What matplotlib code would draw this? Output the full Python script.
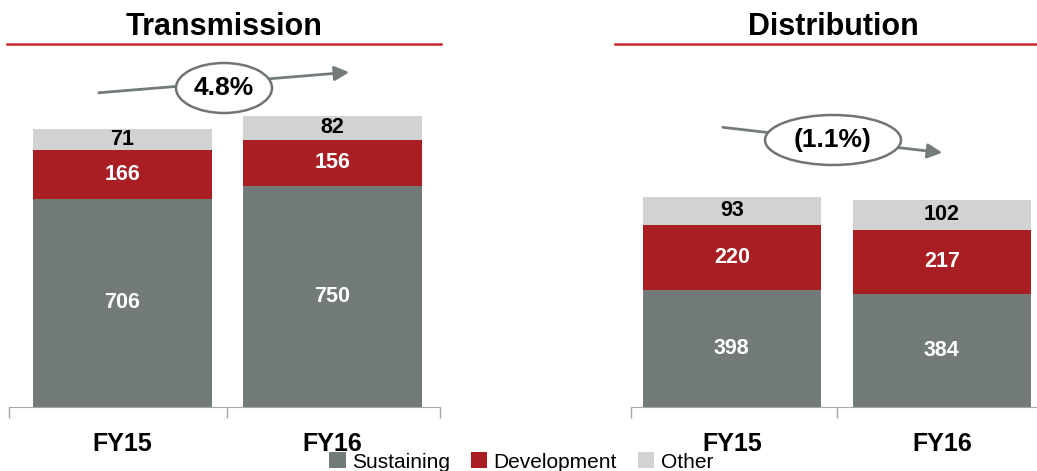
import matplotlib.pyplot as plt
import numpy as np
from matplotlib.lines import Line2D
from matplotlib.patches import Ellipse, FancyArrowPatch

plt.rcParams['font.family'] = ['Liberation Sans', 'DejaVu Sans']

years = ["FY15", "FY16"]
series = ["Sustaining", "Development", "Other"]
transmission = {"Sustaining": [706, 750], "Development": [166, 156], "Other": [71, 82]}
distribution = {"Sustaining": [398, 384], "Development": [220, 217], "Other": [93, 102]}
growth = ["4.8%", "(1.1%)"]

colors = {"Sustaining": "#727b78", "Development": "#a81e23", "Other": "#d0d3d2"}
text_colors = {"Sustaining": "white", "Development": "white", "Other": "black"}

W, H = 1037, 471
fig = plt.figure(figsize=(W / 100, H / 100), dpi=100)


def fx(px):
    return px / W


def fy(py):
    return 1 - py / H


unit = 210.0  # pixels per category
base_py = 407
ymax = 1000
ax_h = ymax * 0.295


def panel(left_px, xlim, data):
    ax = fig.add_axes([fx(left_px), fy(base_py), (xlim[1] - xlim[0]) * unit / W, ax_h / H])
    x = np.arange(len(years))
    bottom = np.zeros(len(years))
    for s in series:
        vals = np.array(data[s])
        ax.bar(x, vals, 0.85, bottom=bottom, color=colors[s], label=s)
        for xi, v, b in zip(x, vals, bottom):
            ax.text(xi, b + v / 2, str(v), ha="center", va="center",
                    fontsize=15.5, fontweight="bold", color=text_colors[s])
        bottom += vals
    ax.set_xlim(*xlim)
    ax.set_ylim(0, ymax)
    for sp in ["top", "right", "left"]:
        ax.spines[sp].set_visible(False)
    ax.spines["bottom"].set_color("#a6a6a6")
    ax.set_yticks([])
    ax.set_xticks(x)
    ax.set_xticklabels(years, fontsize=18, fontweight="bold")
    ax.tick_params(axis="x", which="major", length=0, pad=18)
    ax.set_xticks([xlim[0], 0.5, xlim[1]], minor=True)
    ax.tick_params(axis="x", which="minor", length=8, color="#a6a6a6", width=1)
    return ax


ax1 = panel(9, (-0.54, 1.51), transmission)
ax2 = panel(631, (-0.48, 1.52), distribution)

# panel titles with red rules
for title, cx, x0, x1 in [("Transmission", 224, 7, 441), ("Distribution", 833, 615, 1037)]:
    fig.text(fx(cx), fy(27), title, ha="center", va="center", fontsize=22, fontweight="bold")
    fig.add_artist(Line2D([fx(x0), fx(x1)], [fy(44), fy(44)], color="#c0282d", lw=1.8))

# growth arrows with ellipse labels
arrows = [((96, 93), (352, 72), (224, 88), 96, 50),
          ((720, 127), (945, 153), (833, 140), 136, 50)]
for label, (a, b, c, ew, eh) in zip(growth, arrows):
    fig.add_artist(FancyArrowPatch((fx(a[0]), fy(a[1])), (fx(b[0]), fy(b[1])),
                                   transform=fig.transFigure, arrowstyle="-|>",
                                   mutation_scale=22, color="#747c7a", lw=2))
    fig.add_artist(Ellipse((fx(c[0]), fy(c[1])), ew / W, eh / H, transform=fig.transFigure,
                           facecolor="white", edgecolor="#6e7573", lw=1.8, zorder=3))
    fig.text(fx(c[0]), fy(c[1]), label, ha="center", va="center", fontsize=19,
             fontweight="bold", zorder=4)

handles, labels = ax1.get_legend_handles_labels()
fig.legend(handles, labels, loc="center", bbox_to_anchor=(fx(521), fy(462)), ncol=3,
           frameon=False, fontsize=15, handlelength=0.8, handleheight=0.8,
           handletextpad=0.3, columnspacing=1.0, borderpad=0)

fig.savefig("out.png", dpi=100)
